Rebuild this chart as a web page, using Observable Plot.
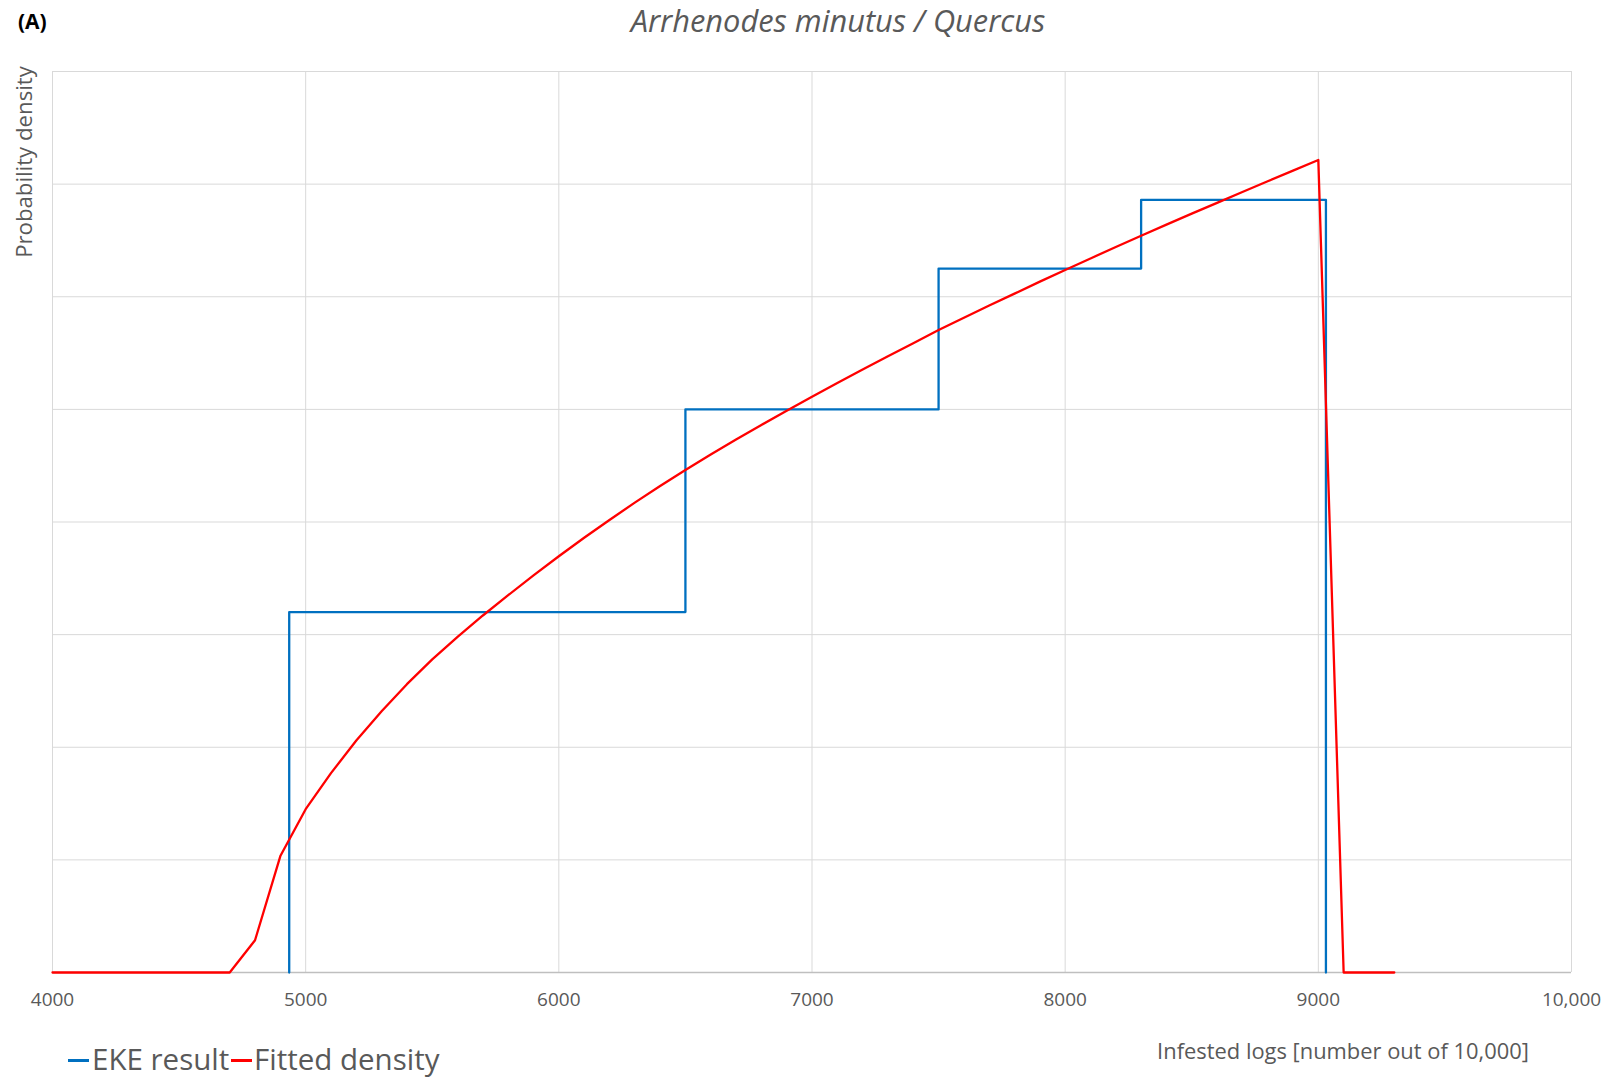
<!DOCTYPE html>
<html>
<head>
<meta charset="utf-8">
<script src="https://cdn.jsdelivr.net/npm/d3@7"></script>
<script src="https://cdn.jsdelivr.net/npm/@observablehq/plot@0.6"></script>
<style>
  html, body { margin: 0; padding: 0; background: #fff; }
  #wrap { position: relative; width: 1610px; height: 1079px; font-family: "Open Sans", sans-serif; color: #595959; }
  #wrap svg { position: absolute; left: 0; top: 0; }
  .t { position: absolute; line-height: 1; white-space: nowrap; }
  .sw { position: absolute; height: 2.5px; }
</style>
</head>
<body>
<div id="wrap"></div>
<script>
// ---- data ----
const xTicks = [4000, 5000, 6000, 7000, 8000, 9000, 10000];
const xTickLabels = ["4000", "5000", "6000", "7000", "8000", "9000", "10,000"];
const yGrid = [0, 5, 10, 15, 20, 25, 30, 35, 40]; // density ×10⁻⁵ (no labels shown)

// EKE result (step histogram between quartiles), density ×10⁻⁵
const ekeX = [4935, 4935, 6500, 7500, 8300, 9030];
const ekeY = [0, 16.0, 25.0, 31.25, 34.3, 0];

// Fitted density, density ×10⁻⁵
const fitX = [4000, 4100, 4200, 4300, 4400, 4500, 4600, 4700, 4800, 4900,
              5000, 5100, 5200, 5300, 5400, 5500, 5600, 5700, 5800, 5900,
              6000, 6100, 6200, 6300, 6400, 6500, 6600, 6700, 6800, 6900,
              7000, 7100, 7200, 7300, 7400, 7500, 7600, 7700, 7800, 7900,
              8000, 8100, 8200, 8300, 8400, 8500, 8600, 8700, 8800, 8900,
              9000, 9100, 9200, 9300];
const fitY = [0, 0, 0, 0, 0, 0, 0, 0, 1.43, 5.17,
              7.25, 8.85, 10.3, 11.6, 12.8, 13.9, 14.9, 15.85, 16.75, 17.63,
              18.48, 19.3, 20.09, 20.86, 21.6, 22.31, 23.0, 23.66, 24.31, 24.94,
              25.56, 26.17, 26.77, 27.36, 27.94, 28.52, 29.07, 29.61, 30.14, 30.67,
              31.19, 31.7, 32.21, 32.71, 33.2, 33.69, 34.17, 34.65, 35.13, 35.6,
              36.07, 0, 0, 0];

const seriesNames = ["EKE result", "Fitted density"];
const seriesColors = ["#0070C0", "#FF0000"];

const eke = ekeX.map((x, i) => ({x, y: ekeY[i]}));
const fit = fitX.map((x, i) => ({x, y: fitY[i]}));
const labelOf = new Map(xTicks.map((t, i) => [t, xTickLabels[i]]));

const chart = Plot.plot({
  width: 1610,
  height: 1079,
  marginLeft: 52,
  marginRight: 39,
  marginTop: 71,
  marginBottom: 107,
  style: {fontFamily: "Open Sans, sans-serif", fontSize: "19px", color: "#595959", background: "transparent"},
  x: {domain: [4000, 10000]},
  y: {domain: [0, 40], axis: null},
  marks: [
    Plot.gridX(xTicks, {stroke: "#d9d9d9", strokeOpacity: 1, strokeWidth: 1}),
    Plot.gridY(yGrid, {stroke: "#d9d9d9", strokeOpacity: 1, strokeWidth: 1}),
    Plot.ruleY([0], {stroke: "#bfbfbf", strokeWidth: 1.3}),
    Plot.axisX(xTicks, {tickSize: 0, tickPadding: 20, tickFormat: d => labelOf.get(d), fontSize: 19, label: null}),
    Plot.line(eke, {x: "x", y: "y", curve: "step-after", stroke: seriesColors[0], strokeWidth: 2.3}),
    Plot.line(fit, {x: "x", y: "y", stroke: seriesColors[1], strokeWidth: 2.3})
  ]
});

const wrap = document.getElementById("wrap");
wrap.appendChild(chart);

function addText(txt, css) {
  const d = document.createElement("div");
  d.className = "t";
  d.textContent = txt;
  Object.assign(d.style, css);
  wrap.appendChild(d);
  return d;
}
// panel letter
addText("(A)", {left: "18px", top: "11px", fontSize: "21px", fontWeight: "700", color: "#000"});
// title
addText("Arrhenodes minutus / Quercus", {left: "838px", top: "5px", fontSize: "30.8px", fontStyle: "italic", transform: "translateX(-50%)"});
// y label
addText("Probability density", {left: "24px", top: "162px", fontSize: "22.2px", transform: "translate(-50%,-50%) rotate(-90deg)"});
// x label
addText("Infested logs [number out of 10,000]", {left: "1343px", top: "1040px", fontSize: "21.9px", transform: "translateX(-50%)"});

// legend
const legendX = [[68, 92], [231, 254]];
seriesNames.forEach((name, i) => {
  const sw = document.createElement("div");
  sw.className = "sw";
  Object.assign(sw.style, {left: legendX[i][0] + "px", top: "1059px", width: "21px", background: seriesColors[i]});
  wrap.appendChild(sw);
  addText(name, {left: legendX[i][1] + "px", top: "1044px", fontSize: "29.5px"});
});
</script>
</body>
</html>
